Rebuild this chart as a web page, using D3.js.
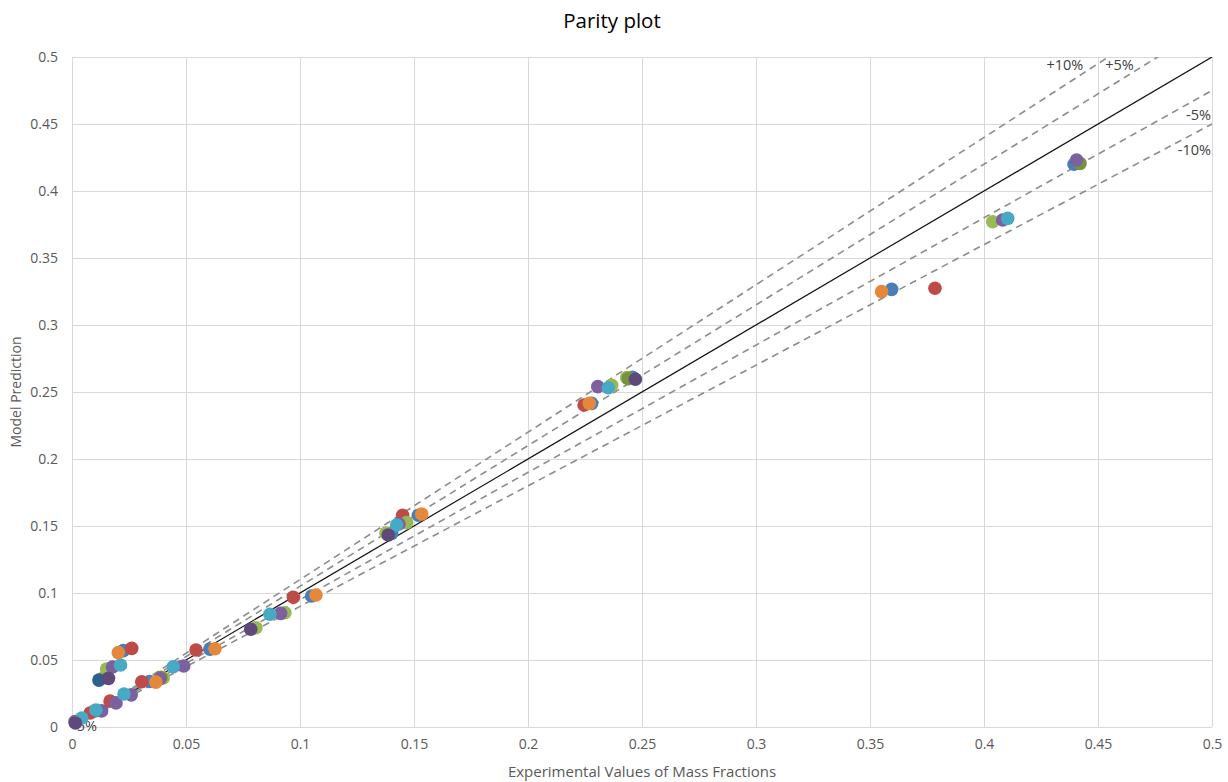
<!DOCTYPE html>
<html><head><meta charset="utf-8">
<script src="https://cdn.jsdelivr.net/npm/d3@7"></script>
<style>body{margin:0;background:#fff;} text{font-family:"Open Sans","Noto Sans",sans-serif;}</style>
</head><body>
<svg id="c" width="1228" height="782"></svg>
<script>
const title = "Parity plot";
const xLabel = "Experimental Values of Mass Fractions";
const yLabel = "Model Prediction";
const xTicks = [0,0.05,0.1,0.15,0.2,0.25,0.3,0.35,0.4,0.45,0.5];
const yTicks = [0,0.05,0.1,0.15,0.2,0.25,0.3,0.35,0.4,0.45,0.5];
const tickLabels = ["0","0.05","0.1","0.15","0.2","0.25","0.3","0.35","0.4","0.45","0.5"];
const deviationFactors = [1.10, 1.05, 0.95, 0.90];
const deviationLabels = ["+10%", "+5%", "-5%", "-10%"];
const seriesNames = ["Blue","Red","Green","Olive","Purple","Aqua","Orange","DarkBlue","DarkPurple"];
const seriesColors = ["#4a7ebb","#be4b48","#98b954","#77933c","#7d60a0","#46aac5","#e5883a","#2f5f8f","#5f497a"];
const blueX = [0.034,0.0225,0.0605,0.1051,0.1402,0.1519,0.2279,0.2459,0.3595,0.4395,0.0100];
const blueY = [0.034,0.057,0.058,0.0978,0.1445,0.158,0.2415,0.261,0.3266,0.4200,0.0120];
const redX = [0.008,0.0167,0.0306,0.0262,0.0544,0.0971,0.145,0.2246,0.3785];
const redY = [0.0105,0.0194,0.0338,0.0587,0.0575,0.0968,0.158,0.2403,0.3274];
const greenX = [0.040,0.0136,0.0152,0.0934,0.1377,0.1468,0.2367,0.2433,0.4038,0.0807];
const greenY = [0.0366,0.0366,0.0433,0.0853,0.1448,0.1525,0.255,0.2607,0.3771,0.0741];
const oliveX = [0.4421,0.2440,0.0390];
const oliveY = [0.4206,0.2600,0.0370];
const purpleX = [0.0013,0.013,0.0193,0.026,0.0386,0.049,0.0178,0.0915,0.1434,0.2306,0.4082,0.4406];
const purpleY = [0.004,0.012,0.018,0.024,0.036,0.0455,0.0448,0.0848,0.1515,0.254,0.3784,0.4231];
const aquaX = [0.0043,0.0105,0.0228,0.0444,0.0213,0.0868,0.1424,0.2352,0.4104];
const aquaY = [0.0067,0.0127,0.0246,0.045,0.0463,0.0841,0.1507,0.2532,0.3796];
const orangeX = [0.0368,0.0203,0.0627,0.107,0.1534,0.2269,0.3551];
const orangeY = [0.0335,0.0555,0.0584,0.0985,0.159,0.2415,0.3249];
const darkBlueX = [0.0118];
const darkBlueY = [0.035];
const darkPurpleX = [0.016,0.0784,0.1387,0.2471,0.0015];
const darkPurpleY = [0.0363,0.0729,0.1433,0.2595,0.003];
const seriesX = [blueX,redX,greenX,oliveX,purpleX,aquaX,orangeX,darkBlueX,darkPurpleX];
const seriesY = [blueY,redY,greenY,oliveY,purpleY,aquaY,orangeY,darkBlueY,darkPurpleY];

const svg = d3.select("#c");
const m = {l:72, r:16, t:57, b:55};
const W = 1228, H = 782;
const x = d3.scaleLinear().domain([0,0.5]).range([m.l, W - m.r]);
const y = d3.scaleLinear().domain([0,0.5]).range([H - m.b, m.t]);
const grid = "#d9d9d9", txt = "#595959";

// gridlines
svg.append("g").selectAll("line").data(xTicks).join("line")
  .attr("x1", d=>x(d)).attr("x2", d=>x(d)).attr("y1", y(0)).attr("y2", y(0.5))
  .attr("stroke", grid).attr("stroke-width", 1).attr("shape-rendering","crispEdges");
svg.append("g").selectAll("line").data(yTicks).join("line")
  .attr("y1", d=>y(d)).attr("y2", d=>y(d)).attr("x1", x(0)).attr("x2", x(0.5))
  .attr("stroke", grid).attr("stroke-width", 1).attr("shape-rendering","crispEdges");

// axes (labels only)
const xAxis = d3.axisBottom(x).tickValues(xTicks).tickFormat((d,i)=>tickLabels[i]).tickSize(0).tickPadding(12);
const gx = svg.append("g").attr("transform", `translate(0,${y(0)})`).call(xAxis);
gx.select(".domain").remove();
gx.selectAll("text").attr("fill", txt).style("font-size","14px");
const yAxis = d3.axisLeft(y).tickValues(yTicks).tickFormat((d,i)=>tickLabels[i]).tickSize(0).tickPadding(14);
const gy = svg.append("g").attr("transform", `translate(${x(0)},0)`).call(yAxis);
gy.select(".domain").remove();
gy.selectAll("text").attr("fill", txt).style("font-size","14px");

// clip
svg.append("clipPath").attr("id","clip").append("rect")
  .attr("x", x(0)).attr("y", y(0.5)).attr("width", x(0.5)-x(0)).attr("height", y(0)-y(0.5));

const lines = svg.append("g").attr("clip-path","url(#clip)");
deviationFactors.forEach(f=>{
  lines.append("line").attr("x1", x(0)).attr("y1", y(0)).attr("x2", x(0.5)).attr("y2", y(0.5*f))
    .attr("stroke", "#8c8c8c").attr("stroke-width", 1.6).attr("stroke-dasharray","7,5");
});
lines.append("line").attr("x1", x(0)).attr("y1", y(0)).attr("x2", x(0.5)).attr("y2", y(0.5))
  .attr("stroke", "#111").attr("stroke-width", 1.2);

// deviation labels
const lab = svg.append("g").attr("fill","#404040").style("font-size","14.5px");
lab.append("text").attr("x", x(0.5/1.10) - 25).attr("y", y(0.5) + 13).attr("text-anchor","end").text(deviationLabels[0]);
lab.append("text").attr("x", x(0.5/1.05) - 24).attr("y", y(0.5) + 13).attr("text-anchor","end").text(deviationLabels[1]);
lab.append("text").attr("x", x(0.5) - 1).attr("y", y(0.5*0.95) + 29).attr("text-anchor","end").text(deviationLabels[2]);
lab.append("text").attr("x", x(0.5) - 1).attr("y", y(0.5*0.90) + 31).attr("text-anchor","end").text(deviationLabels[3]);
lab.append("text").attr("x", x(0) + 0).attr("y", y(0) + 4).attr("text-anchor","start").text(deviationLabels[2]);

// points
seriesX.forEach((xs, si)=>{
  const pts = xs.map((v,i)=>[v, seriesY[si][i]]);
  svg.append("g").selectAll("circle").data(pts).join("circle")
    .attr("cx", d=>x(d[0])).attr("cy", d=>y(d[1])).attr("r", 6.8)
    .attr("fill", seriesColors[si]);
});

// titles
svg.append("text").attr("x", W/2 - 2).attr("y", 28).attr("text-anchor","middle")
  .attr("fill","#000").style("font-size","20.5px").text(title);
svg.append("text").attr("x", (x(0)+x(0.5))/2).attr("y", 777).attr("text-anchor","middle")
  .attr("fill", txt).style("font-size","15px").text(xLabel);
svg.append("text").attr("transform", `translate(21,${(y(0)+y(0.5))/2}) rotate(-90)`).attr("text-anchor","middle")
  .attr("fill", txt).style("font-size","14px").text(yLabel);
</script>
</body></html>
